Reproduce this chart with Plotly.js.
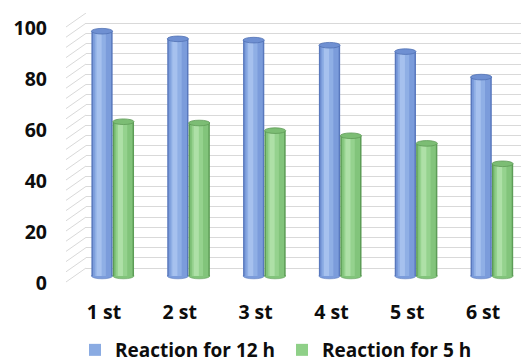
<!DOCTYPE html>
<html>
<head>
<meta charset="utf-8">
<script src="https://cdn.plot.ly/plotly-3.0.1.min.js"></script>
<style>html,body{margin:0;padding:0;background:#fff;}#chart{width:525px;height:363px;}</style>
</head>
<body>
<div id="chart"></div>
<script>
// ---- data ----
var categories = ["1 st", "2 st", "3 st", "4 st", "5 st", "6 st"];
var seriesNames = ["Reaction for 12 h", "Reaction for 5 h"];
var reaction12h = [96, 93, 92.5, 90.5, 88, 78];
var reaction5h = [60.5, 60, 57, 55, 52, 44];
var yTickVals = [0, 20, 40, 60, 80, 100];
var yTickText = ["0", "20", "40", "60", "80", "100"];

// ---- styling ----
var W = 525, H = 363;
var mL = 66, mR = 4, mT = 13, mB = 75;
var plotH = H - mT - mB;           // 275
var plotW = W - mL - mR;           // 455
var pxPerUnit = 2.55;
var wallBottomPx = 268, barBottomPx = 276, wallLeftPx = 86;
var wallMin = -6, barMin = -4;

function yFrac(px) { return (H - mB - px) / plotH; }

var idx = categories.map(function (_, i) { return i; });
var barW = 0.28;
var offs = [-0.165, 0.117];

var palettes = [
  { edge: "#5878bd", body: "#7b9cdb", mid: "#8fafe5", hi: "#a6c1ee", cap: "#6f90d2", capLine: "#5171b4", legend: "#8aabe2" },
  { edge: "#5c9c56", body: "#82c47b", mid: "#95d28e", hi: "#aee0a7", cap: "#7cbd74", capLine: "#5e9a57", legend: "#8fd088" }
];
var seriesVals = [reaction12h, reaction5h];

var traces = [];
traces.push({ type: "scatter", x: [0], y: [0], xaxis: "x", yaxis: "y", mode: "markers", marker: { opacity: 0 }, showlegend: false, hoverinfo: "skip" });

var shapes = [];
seriesVals.forEach(function (vals, s) {
  var p = palettes[s];
  var off = offs[s];
  var layers = [
    { w: 1.0, d: 0.0, c: p.edge },
    { w: 0.86, d: 0.0, c: p.body },
    { w: 0.52, d: -0.08, c: p.mid },
    { w: 0.24, d: -0.14, c: p.hi }
  ];
  layers.forEach(function (L) {
    var w = barW * L.w;
    var o = off + (barW - w) / 2 + L.d * barW;
    traces.push({
      type: "bar", x: idx, y: vals, xaxis: "x2", yaxis: "y2",
      width: w, offset: o,
      marker: { color: L.c, line: { width: 0 } },
      name: seriesNames[s], showlegend: false, hoverinfo: "skip"
    });
  });
  traces.push({
    type: "bar", x: [null], y: [null], xaxis: "x2", yaxis: "y2",
    marker: { color: p.legend, line: { width: 0 } },
    name: seriesNames[s], showlegend: true
  });
  vals.forEach(function (v, i) {
    var x0 = i + off, x1 = i + off + barW;
    shapes.push({ type: "circle", xref: "x2", yref: "y2", x0: x0, x1: x1, y0: v - 1.1, y1: v + 1.1,
      fillcolor: p.cap, line: { color: p.capLine, width: 0.8 }, layer: "above" });
    shapes.push({ type: "circle", xref: "x2", yref: "y2", x0: x0, x1: x1, y0: -1.1, y1: 1.1,
      fillcolor: p.body, line: { color: p.edge, width: 0.6 }, layer: "below" });
  });
});

// back wall grid and left side wall
var gridVals = [];
for (var g = 0; g <= 100; g += 4) gridVals.push(g);
var frontShift = 14 / pxPerUnit;
gridVals.forEach(function (v) {
  shapes.push({ type: "line", xref: "paper", yref: "y", x0: 0, x1: (wallLeftPx - mL) / plotW,
    y0: v - frontShift, y1: v, line: { color: "#d9d9d9", width: 1 }, layer: "below" });
});

var font = "'Open Sans', 'Noto Sans', Arial, sans-serif";
var txt = "#0d0d0d";

var layout = {
  width: W, height: H,
  margin: { l: mL, r: mR, t: mT, b: mB, pad: 0 },
  paper_bgcolor: "#ffffff",
  plot_bgcolor: "rgba(0,0,0,0)",
  barmode: "overlay",
  showlegend: true,
  legend: {
    orientation: "h", xref: "container", yref: "container",
    x: 84 / W, xanchor: "left",
    y: (H - 350) / H, yanchor: "middle",
    font: { family: font, size: 19, color: txt, weight: "bold" },
    indentation: -9, entrywidth: 171, traceorder: "normal", bgcolor: "rgba(0,0,0,0)"
  },
  xaxis: {
    domain: [(wallLeftPx - mL) / plotW, 1], anchor: "y", range: [0, 1],
    showgrid: false, zeroline: false, showticklabels: false, showline: false, ticks: ""
  },
  yaxis: {
    domain: [yFrac(wallBottomPx + (-wallMin) * pxPerUnit), 1], anchor: "x", range: [wallMin, 100],
    tickmode: "array", tickvals: gridVals, showticklabels: false, ticks: "",
    showgrid: true, gridcolor: "#d9d9d9", gridwidth: 1, zeroline: false, showline: false
  },
  xaxis2: {
    domain: [0, 1], anchor: "y2", range: [-0.5, 5.5],
    tickmode: "array", tickvals: idx, ticktext: categories,
    showgrid: false, zeroline: false, showline: false, ticks: "",
    tickfont: { family: font, size: 19.5, color: txt, weight: "bold" },
    ticklabelstandoff: 12
  },
  yaxis2: {
    domain: [yFrac(barBottomPx + (-barMin) * pxPerUnit), yFrac(barBottomPx - 100 * pxPerUnit)],
    anchor: "x2", range: [barMin, 100],
    tickmode: "array", tickvals: yTickVals, ticktext: yTickText,
    showgrid: false, zeroline: false, showline: false, ticks: "",
    tickfont: { family: font, size: 19.5, color: txt, weight: "bold" },
    ticklabelshift: 7, ticklabelstandoff: 18
  },
  shapes: shapes
};

Plotly.newPlot("chart", traces, layout, { displayModeBar: false, staticPlot: true });
</script>
</body>
</html>
